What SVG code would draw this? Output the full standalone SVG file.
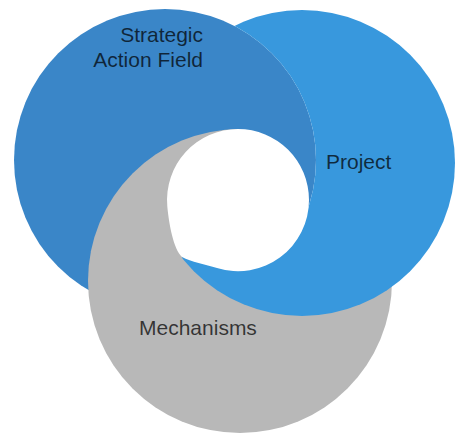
<svg xmlns="http://www.w3.org/2000/svg" width="455" height="435" viewBox="0 0 455 435">
<style>
  .lbl { font-family: "Liberation Sans", Arial, Helvetica, sans-serif; font-size: 21px; fill: #000000; fill-opacity: 0.72; }
  .saf { fill: #3a86c8; }
  .proj { fill: #3898dd; }
  .mech { fill: #b8b8b8; }
</style>
<defs>
  <clipPath id="clipMech">
    <path clip-rule="evenodd" d="M-10,-10H465V445H-10Z M238,200 L238,60 L354,122 L361,267 Z"/>
  </clipPath>
  <clipPath id="clipProj">
    <path clip-rule="nonzero" d="M-10,-10H465V445H-10Z M14,160 A151,151 0 1 0 316,160 A151,151 0 1 0 14,160 Z M238,200 L352,262 L238,330 L147,293 Z"/>
  </clipPath>
</defs>
<rect width="455" height="435" fill="#ffffff"/>
<g id="strategic-action-field">
  <circle class="saf" cx="165" cy="160" r="151"/>
  <text class="lbl" x="203" y="42" text-anchor="end">Strategic</text>
  <text class="lbl" x="203" y="67" text-anchor="end">Action Field</text>
</g>
<g id="mechanisms">
  <circle class="mech" cx="240" cy="281" r="152" clip-path="url(#clipMech)"/>
  <text class="lbl" x="139" y="335">Mechanisms</text>
</g>
<g id="project">
  <circle class="proj" cx="302" cy="163" r="153" clip-path="url(#clipProj)"/>
  <text class="lbl" x="326" y="169">Project</text>
</g>
<path id="center-hole" fill="#ffffff" d="M238,129 A71,71 0 0 1 309,200 A71,71 0 0 1 217,268 C205.5,264.5 191,262 182,257 C173.5,249 168.9,224 167.3,206.2 A71,71 0 0 1 238,129 Z"/>
</svg>
